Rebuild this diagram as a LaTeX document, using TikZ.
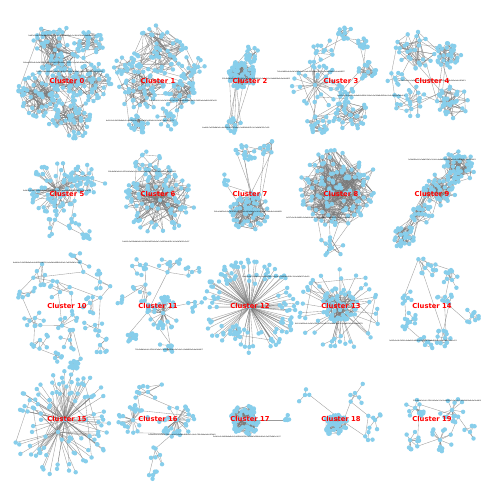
\documentclass[tikz,border=0pt]{standalone}
\usepackage{fontspec}
\setmainfont{DejaVu Sans}
\usepackage{tikz}
\definecolor{nodeblue}{HTML}{87CEEB}
\definecolor{edgegray}{HTML}{7A7A7A}
\pgfdeclarelayer{dots}
\pgfdeclarelayer{text}
\pgfsetlayers{main,dots,text}
% one community: name, x, y, size, radius, inner ratio, hub probability, extra links
\newcommand{\comm}[8]{%
  \coordinate (#1-0) at (#2,#3);
  \foreach \i in {1,...,#4}{%
    \pgfmathsetmacro{\ang}{360*rnd}%
    \pgfmathsetmacro{\rad}{#5*(#6+(1-#6)*sqrt(rnd))}%
    \pgfmathsetmacro{\px}{#2+\rad*cos(\ang)}%
    \pgfmathsetmacro{\py}{#3+\rad*sin(\ang)}%
    \coordinate (#1-\i) at (\px,\py);
  }%
  \foreach \i in {1,...,#4}{%
    \pgfmathsetmacro{\u}{rnd}%
    \pgfmathtruncatemacro{\j}{\u<#7 ? 0 : floor(rnd*\i)}%
    \draw[edge] (#1-\i) -- (#1-\j);
    \ifnum#8>0
      \foreach \k in {1,...,#8}{%
        \pgfmathtruncatemacro{\j}{floor(rnd*(#4+1))}%
        \draw[edge] (#1-\i) -- (#1-\j);
      }%
    \fi
  }%
  \begin{pgfonlayer}{dots}
    \foreach \i in {0,...,#4}{\fill[dot] (#1-\i) circle[radius=2.2pt];}
  \end{pgfonlayer}
}
% links between two communities
\newcommand{\tie}[3]{\foreach \m in {1,...,#3}{\draw[edge] (#1-\m) -- (#2-\m);}}

\begin{document}
\begin{tikzpicture}[x=1pt, y=-1pt,
    edge/.style={draw=edgegray, line width=0.35pt, draw opacity=0.75},
    dot/.style={fill=nodeblue},
    clabel/.style={text=red, font=\fontsize{6.8}{7}\selectfont\bfseries, inner sep=0},
    hashlbl/.style={text=black, font=\fontsize{1.75}{2}\selectfont, inner sep=0}
  ]
  \pgfmathsetseed{11}
  \fill[white] (0,0) rectangle (500,500);
  \useasboundingbox (0,0) rectangle (500,500);
  %
  % === Cluster 0 ===
  \comm{c0a}{55}{50}{50}{26}{0}{0.3}{1}
  \comm{c0b}{40}{95}{55}{25}{0}{0.3}{1}
  \comm{c0c}{92}{82}{40}{20}{0}{0.3}{1}
  \comm{c0d}{70}{118}{45}{22}{0}{0.3}{1}
  \comm{c0e}{88}{45}{25}{16}{0}{0.4}{1}
  \comm{c0f}{68}{80}{30}{18}{0}{0.3}{1}
  \tie{c0a}{c0b}{4} \tie{c0a}{c0c}{3} \tie{c0b}{c0d}{4} \tie{c0c}{c0d}{3} \tie{c0a}{c0e}{3}
  \tie{c0f}{c0a}{3} \tie{c0f}{c0b}{3} \tie{c0f}{c0c}{3} \tie{c0f}{c0d}{3}
  %
  % === Cluster 1 ===
  \comm{c1a}{160}{50}{45}{26}{0}{0.25}{1}
  \comm{c1b}{140}{88}{40}{24}{0}{0.3}{1}
  \comm{c1c}{180}{95}{30}{16}{0}{0.3}{1}
  \comm{c1d}{138}{125}{22}{10}{0}{0.3}{2}
  \comm{c1e}{192}{70}{20}{14}{0}{0.3}{0}
  \comm{c1f}{165}{120}{15}{12}{0}{0.4}{0}
  \comm{c1g}{125}{65}{15}{12}{0}{0.4}{0}
  \tie{c1a}{c1b}{3} \tie{c1a}{c1e}{3} \tie{c1b}{c1c}{3} \tie{c1b}{c1d}{2} \tie{c1c}{c1f}{2} \tie{c1c}{c1e}{2}
  \tie{c1g}{c1a}{2} \tie{c1g}{c1b}{2}
  %
  % === Cluster 2 ===
  \comm{c2a}{242}{75}{60}{15}{0}{0.2}{2}
  \comm{c2b}{250}{55}{15}{9}{0}{0.3}{1}
  \comm{c2c}{235}{125}{15}{8}{0}{0.3}{1}
  \tie{c2a}{c2b}{4} \tie{c2a}{c2c}{7}
  %
  % === Cluster 3 ===
  \comm{c3a}{315}{85}{30}{25}{0.3}{0.85}{0}
  \comm{c3b}{345}{33}{12}{8}{0}{0.3}{1}
  \comm{c3c}{362}{45}{10}{7}{0}{0.3}{1}
  \comm{c3d}{368}{72}{15}{10}{0}{0.3}{1}
  \comm{c3e}{350}{115}{30}{18}{0}{0.3}{1}
  \comm{c3f}{318}{122}{20}{12}{0}{0.3}{1}
  \comm{c3g}{345}{92}{12}{10}{0}{0.4}{0}
  \comm{c3h}{325}{50}{10}{12}{0}{0.3}{0}
  \tie{c3a}{c3h}{2} \tie{c3h}{c3b}{2} \tie{c3b}{c3c}{2} \tie{c3c}{c3d}{2} \tie{c3a}{c3g}{3}
  \tie{c3g}{c3d}{2} \tie{c3g}{c3e}{3} \tie{c3a}{c3f}{3} \tie{c3e}{c3f}{3}
  %
  % === Cluster 4 ===
  \comm{c4a}{415}{50}{25}{20}{0}{0.3}{1}
  \comm{c4b}{448}{55}{30}{13}{0}{0.3}{1}
  \comm{c4c}{452}{102}{35}{17}{0}{0.3}{1}
  \comm{c4d}{410}{102}{22}{17}{0}{0.3}{0}
  \comm{c4e}{395}{78}{8}{8}{0}{0.4}{0}
  \tie{c4a}{c4b}{3} \tie{c4b}{c4c}{3} \tie{c4c}{c4d}{3} \tie{c4d}{c4e}{2} \tie{c4a}{c4e}{2} \tie{c4a}{c4c}{2}
  %
  % === Cluster 5 ===
  \comm{c5a}{57}{190}{70}{28}{0.1}{0.75}{0}
  \comm{c5b}{88}{178}{25}{18}{0}{0.4}{0}
  \comm{c5c}{72}{222}{6}{10}{0}{0.5}{0}
  \comm{c5d}{88}{236}{8}{6}{0}{0.5}{0}
  \comm{c5e}{50}{228}{5}{10}{0}{0.5}{0}
  \tie{c5a}{c5b}{6} \tie{c5a}{c5c}{1} \tie{c5c}{c5d}{2} \tie{c5a}{c5e}{1} \tie{c5e}{c5c}{1}
  %
  % === Cluster 6 ===
  \comm{c6a}{160}{200}{90}{35}{0.15}{0.7}{1}
  \comm{c6b}{150}{165}{20}{15}{0}{0.4}{0}
  \tie{c6a}{c6b}{6}
  %
  % === Cluster 7 ===
  \comm{c7a}{250}{212}{60}{20}{0}{0.2}{2}
  \comm{c7b}{245}{152}{15}{12}{0}{0.3}{0}
  \comm{c7c}{268}{148}{10}{8}{0}{0.3}{1}
  \comm{c7d}{225}{180}{5}{8}{0}{0.5}{0}
  \tie{c7a}{c7b}{3} \tie{c7a}{c7c}{3} \tie{c7b}{c7c}{2} \tie{c7a}{c7d}{2}
  %
  % === Cluster 8 ===
  \comm{c8a}{338}{188}{120}{40}{0}{0.15}{2}
  \comm{c8b}{330}{245}{10}{15}{0}{0.3}{1}
  \tie{c8a}{c8b}{4}
  %
  % === Cluster 9 ===
  \comm{c9a}{458}{168}{45}{17}{0}{0.2}{2}
  \comm{c9b}{440}{190}{40}{17}{0}{0.2}{2}
  \comm{c9c}{422}{214}{20}{11}{0}{0.3}{1}
  \comm{c9d}{405}{238}{30}{12}{0}{0.2}{2}
  \tie{c9a}{c9b}{8} \tie{c9b}{c9c}{6} \tie{c9c}{c9d}{8} \tie{c9b}{c9d}{4}
  %
  % === Cluster 10 ===
  \comm{c10a}{45}{275}{7}{12}{0.3}{0.5}{0}
  \comm{c10b}{80}{262}{6}{12}{0.3}{0.5}{0}
  \comm{c10c}{100}{282}{7}{12}{0.3}{0.5}{0}
  \comm{c10d}{28}{295}{6}{10}{0.3}{0.5}{0}
  \comm{c10e}{60}{292}{6}{12}{0.3}{0.5}{0}
  \comm{c10f}{90}{303}{7}{12}{0.3}{0.5}{0}
  \comm{c10g}{35}{318}{8}{12}{0.3}{0.5}{0}
  \comm{c10h}{65}{318}{7}{12}{0.3}{0.5}{0}
  \comm{c10i}{95}{325}{6}{12}{0.3}{0.5}{0}
  \comm{c10j}{40}{340}{7}{10}{0.3}{0.5}{0}
  \comm{c10k}{70}{340}{7}{12}{0.3}{0.5}{0}
  \comm{c10l}{100}{345}{6}{10}{0.3}{0.5}{0}
  \comm{c10m}{75}{362}{7}{8}{0.3}{0.5}{0}
  \comm{c10n}{55}{358}{5}{8}{0.3}{0.5}{0}
  \tie{c10a}{c10b}{1} \tie{c10b}{c10c}{1} \tie{c10a}{c10d}{1} \tie{c10a}{c10e}{1} \tie{c10e}{c10f}{1}
  \tie{c10c}{c10f}{1} \tie{c10d}{c10g}{1} \tie{c10e}{c10h}{2} \tie{c10f}{c10i}{1} \tie{c10g}{c10j}{1}
  \tie{c10h}{c10k}{1} \tie{c10i}{c10l}{1} \tie{c10k}{c10m}{1} \tie{c10j}{c10n}{1} \tie{c10h}{c10g}{1}
  %
  % === Cluster 11 ===
  \comm{c11a}{163}{313}{35}{17}{0.4}{1}{0}
  \comm{c11b}{140}{265}{8}{12}{0.2}{0.4}{0}
  \comm{c11c}{170}{262}{8}{12}{0.2}{0.4}{0}
  \comm{c11d}{192}{272}{5}{8}{0.2}{0.5}{0}
  \comm{c11e}{140}{292}{6}{10}{0.2}{0.5}{0}
  \comm{c11f}{122}{300}{4}{6}{0}{0.5}{0}
  \comm{c11g}{195}{306}{5}{8}{0.2}{0.8}{0}
  \comm{c11h}{133}{338}{12}{6}{0}{0.3}{1}
  \comm{c11i}{165}{350}{6}{8}{0.2}{0.5}{0}
  \tie{c11a}{c11e}{1} \tie{c11e}{c11b}{1} \tie{c11b}{c11c}{1} \tie{c11c}{c11d}{1} \tie{c11a}{c11c}{1}
  \tie{c11e}{c11f}{1} \tie{c11a}{c11g}{1} \tie{c11a}{c11h}{1} \tie{c11a}{c11i}{2}
  %
  % === Cluster 12 ===
  \comm{c12a}{250}{307}{110}{48}{0.45}{1}{0}
  \comm{c12b}{235}{332}{15}{8}{0}{0.3}{1}
  \tie{c12a}{c12b}{2}
  %
  % === Cluster 13 ===
  \comm{c13a}{340}{305}{60}{18}{0}{0.4}{1}
  \comm{c13b}{340}{310}{40}{42}{0.45}{0.8}{0}
  \tie{c13a}{c13b}{10}
  %
  % === Cluster 14 ===
  \comm{c14a}{425}{268}{10}{12}{0.2}{0.4}{0}
  \comm{c14b}{452}{280}{10}{10}{0.2}{0.5}{0}
  \comm{c14c}{445}{297}{8}{8}{0.2}{0.6}{0}
  \comm{c14d}{472}{316}{8}{8}{0.2}{0.6}{0}
  \comm{c14e}{410}{322}{12}{10}{0.2}{0.4}{0}
  \comm{c14f}{445}{338}{12}{10}{0.2}{0.4}{0}
  \comm{c14g}{425}{345}{8}{8}{0.2}{0.5}{0}
  \comm{c14h}{408}{298}{6}{8}{0.2}{0.5}{0}
  \tie{c14a}{c14b}{1} \tie{c14b}{c14c}{1} \tie{c14c}{c14d}{1} \tie{c14c}{c14f}{2} \tie{c14a}{c14h}{1}
  \tie{c14h}{c14e}{1} \tie{c14e}{c14g}{1} \tie{c14g}{c14f}{1} \tie{c14a}{c14f}{1}
  %
  % === Cluster 15 ===
  \comm{c15a}{65}{420}{70}{50}{0.25}{1}{0}
  \comm{c15b}{58}{432}{30}{45}{0.5}{1}{0}
  \comm{c15c}{75}{365}{10}{6}{0}{0.3}{1}
  \tie{c15a}{c15b}{6} \tie{c15a}{c15c}{1}
  %
  % === Cluster 16 ===
  \comm{c16a}{133}{420}{22}{15}{0.4}{1}{0}
  \comm{c16b}{177}{420}{30}{18}{0.4}{1}{0}
  \comm{c16c}{148}{392}{8}{16}{0.2}{0.3}{0}
  \comm{c16d}{160}{455}{5}{12}{0.2}{0.4}{0}
  \comm{c16e}{153}{475}{4}{5}{0}{0.5}{0}
  \tie{c16a}{c16b}{2} \tie{c16a}{c16c}{1} \tie{c16c}{c16b}{1} \tie{c16b}{c16d}{1} \tie{c16d}{c16e}{1}
  %
  % === Cluster 17 ===
  \comm{c17a}{245}{420}{70}{15}{0}{0.2}{2}
  \comm{c17b}{285}{420}{4}{6}{0}{0.8}{0}
  \draw[edge] (c17a-0) -- (c17b-0);
  %
  % === Cluster 18 ===
  \comm{c18a}{336}{425}{50}{12}{0}{0.2}{2}
  \comm{c18b}{355}{393}{5}{12}{0.2}{0.5}{0}
  \comm{c18c}{305}{395}{3}{10}{0}{0.5}{0}
  \comm{c18d}{375}{420}{6}{10}{0.2}{0.5}{0}
  \comm{c18e}{368}{440}{3}{10}{0}{0.5}{0}
  \tie{c18a}{c18b}{1} \tie{c18a}{c18c}{1} \tie{c18b}{c18d}{1} \tie{c18d}{c18e}{1} \tie{c18a}{c18e}{1}
  %
  % === Cluster 19 ===
  \comm{c19a}{415}{408}{12}{10}{0.4}{1}{0}
  \comm{c19b}{452}{410}{14}{13}{0.4}{1}{0}
  \comm{c19c}{410}{440}{10}{10}{0.4}{1}{0}
  \comm{c19d}{440}{440}{12}{13}{0.4}{1}{0}
  \comm{c19e}{470}{432}{4}{8}{0.2}{0.6}{0}
  \tie{c19a}{c19b}{1} \tie{c19a}{c19c}{1} \tie{c19c}{c19d}{1} \tie{c19b}{c19d}{1} \tie{c19b}{c19e}{1}
  %
  % Labels
  \begin{pgfonlayer}{text}
    \node[hashlbl] (h0a) at (62,36) {0a8f3c1e9b7d2a4f6c8e0b1d3f5a7c9e2b4d6f8a0c1e3b5d7f9a2c4e6b8d0f13};
    \node[hashlbl] (h0b) at (57,63) {1b9e4d2f0a8c3e5b7d9f1a3c5e7b9d0f2a4c6e8b1d3f5a7c9e0b2d4f6a8c1e35};
    \node[hashlbl] (h0c) at (70,72) {2c0f5e3a1b9d4f6c8e0a2b4d6f8a1c3e5b7d9f0a2c4e6b8d1f3a5c7e9b0d2f47};
    \node[hashlbl] (h1a) at (183,101) {3d1a6f4b2c0e5a7d9f1b3c5e7a9c2e4b6d8f0a1c3e5b7d9f2a4c6e8b0d1f3a59};
    \node[hashlbl] (h1b) at (140,121) {4e2b7a5c3d1f6b8e0a2c4d6f8b0d3f5c7e9a1b2d4f6a8c0e3b5d7f9a1c3e5b71};
    \node[hashlbl] (h2a) at (256,79) {5f3c8b6d4e2a7c9f1b3d5e7a9c1e4a6d8f0b2c3e5a7c9e1b4d6f8a0c2e4b6d83};
    \node[hashlbl] (h2b) at (236,128) {6a4d9c7e5f3b8d0a2c4e6f8b0d2f5b7e9a1c3d4f6b8d0f2c5e7a9b1d3f5c7e95};
    \node[hashlbl] (h3a) at (311,72) {7b5e0d8f6a4c9e1b3d5f7a9c1e3a6c8f0b2d4e5a7c9e1a3d6f8b0c2e4a6d8f07};
    \node[hashlbl] (h3b) at (371,96) {8c6f1e9a7b5d0f2c4e6a8b0d2f4b7d9a1c3e5f6b8d0f2b4e7a9c1d3f5b7e9a19};
    \node[hashlbl] (h4a) at (432,81) {9d7a2f0b8c6e1a3d5f7b9c1e3a5c8e0b2d4f6a7c9e1a3c5f8b0d2e4a6c8f0b21};
    \node[hashlbl] (h5a) at (57,191) {0e8b3a1c9d7f2b4e6a8c0d2f4b6d9f1c3e5a7b8d0f2b4d6a9c1e3f5b7d9a1c33};
    \node[hashlbl] (h6a) at (142,172) {1f9c4b2d0e8a3c5f7b9d1e3a5c7e0a2d4f6b8c9e1a3c5e7b0d2f4a6c8e0b2d45};
    \node[hashlbl] (h6b) at (156,242) {2a0d5c3e1f9b4d6a8c0e2f4b6d8f1b3e5a7c9d0f2b4d6f8c1e3a5b7d9f1c3e57};
    \node[hashlbl] (h7a) at (248,212) {3b1e6d4f2a0c5e7b9d1f3a5c7e9a2c4f6b8d0e1a3c5e7a9d2f4b6c8e0a2d4f69};
    \node[hashlbl] (h8a) at (320,218) {4c2f7e5a3b1d6f8c0e2a4b6d8f0b3d5a7c9e1f2b4d6f8b0e3a5c7d9f1b3e5a71};
    \node[hashlbl] (h9a) at (442,160) {5d3a8f6b4c2e7a9d1f3b5c7e9a1c4e6b8d0f2a3c5e7a9c1f4b6d8e0a2c4f6b83};
    \node[hashlbl] (h10a) at (47,263) {6e4b9a7c5d3f8b0e2a4c6d8f0b2d5f7c9e1a3b4d6f8b0d2a5c7e9f1b3d5a7c95};
    \node[hashlbl] (h11a) at (169,350) {7f5c0b8d6e4a9c1f3b5d7e9a1c3e6a8d0f2b4c5e7a9c1e3b6d8f0a2c4e6b8d07};
    \node[hashlbl] (h12a) at (276,277) {8a6d1c9e7f5b0d2a4c6e8f0b2d4f7b9e1a3c5d6f8b0d2f4c7e9a1b3d5f7c9e19};
    \node[hashlbl] (h13a) at (329,324) {9b7e2d0f8a6c1e3b5d7f9a1c3e5a8c0f2b4d6e7a9c1e3a5d8f0b2c4e6a8d0f21};
    \node[hashlbl] (h14a) at (423,341) {0c8f3e1a9b7d2f4c6e8a0b2d4f6b9d1a3c5e7f8b0d2f4b6e9a1c3d5f7b9e1a33};
    \node[hashlbl] (h16a) at (182,435) {1d9a4f2b0c8e3a5d7f9b1c3e5a7c0e2b4d6f8a9c1e3a5c7f0b2d4e6a8c0f2b45};
    \node[hashlbl] (h17a) at (247,437) {2e0b5a3c1d9f4b6e8a0c2d4f6b8d1f3c5e7a9b0d2f4b6d8a1c3e5f7b9d1a3c57};
    \node[hashlbl] (h19a) at (447,401) {3f1c6b4d2e0a5c7f9b1d3e5a7c9e2a4d6f8b0c1e3a5c7e9b2d4f6a8c0e2b4d69};
    %
    \node[clabel] (l0) at (67,81) {Cluster 0};
    \node[clabel] (l1) at (158,81) {Cluster 1};
    \node[clabel] (l2) at (250,81) {Cluster 2};
    \node[clabel] (l3) at (341,81) {Cluster 3};
    \node[clabel] (l4) at (432,81) {Cluster 4};
    \node[clabel] (l5) at (67,194) {Cluster 5};
    \node[clabel] (l6) at (158,194) {Cluster 6};
    \node[clabel] (l7) at (250,194) {Cluster 7};
    \node[clabel] (l8) at (341,194) {Cluster 8};
    \node[clabel] (l9) at (432,194) {Cluster 9};
    \node[clabel] (l10) at (67,306) {Cluster 10};
    \node[clabel] (l11) at (158,306) {Cluster 11};
    \node[clabel] (l12) at (250,306) {Cluster 12};
    \node[clabel] (l13) at (341,306) {Cluster 13};
    \node[clabel] (l14) at (432,306) {Cluster 14};
    \node[clabel] (l15) at (67,419) {Cluster 15};
    \node[clabel] (l16) at (158,419) {Cluster 16};
    \node[clabel] (l17) at (250,419) {Cluster 17};
    \node[clabel] (l18) at (341,419) {Cluster 18};
    \node[clabel] (l19) at (432,419) {Cluster 19};
  \end{pgfonlayer}
\end{tikzpicture}
\end{document}
